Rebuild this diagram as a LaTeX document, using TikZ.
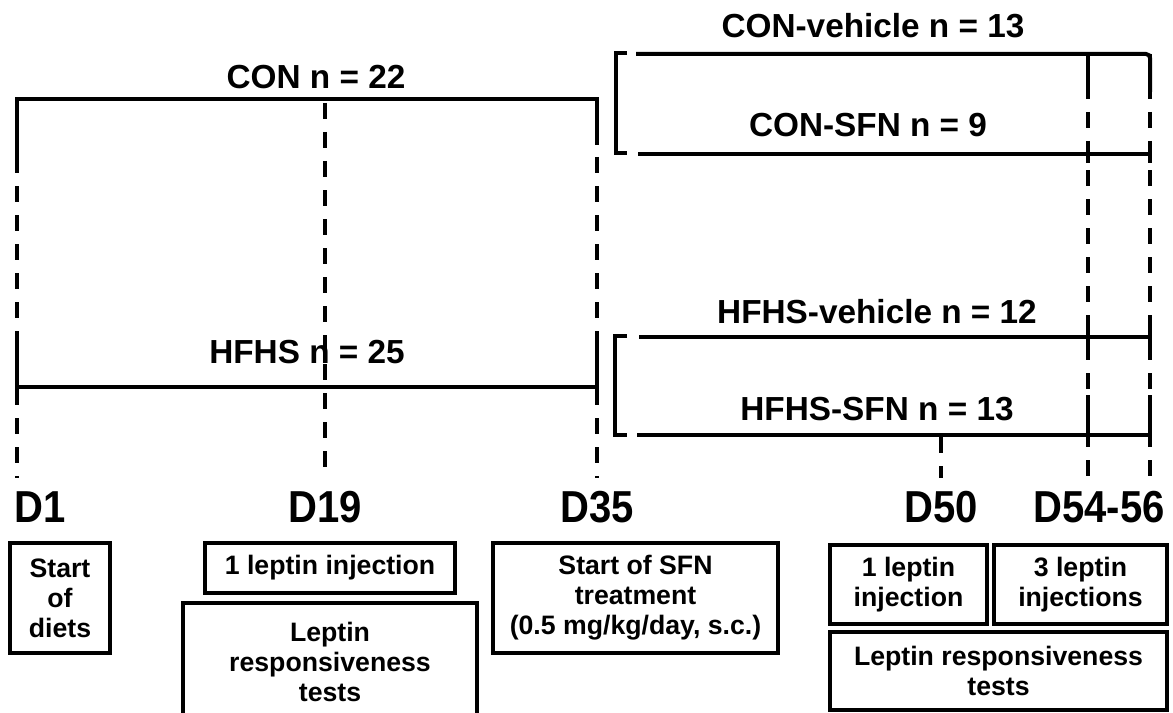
\documentclass[tikz,border=0pt]{standalone}
\usepackage{fontspec}
\setmainfont{Liberation Sans}
\begin{document}
\begin{tikzpicture}[x=0.75pt,y=-0.75pt,line width=3pt,
  dline/.style={line width=2.6pt,dash pattern=on 12pt off 9.75pt},
  grp/.style={font=\bfseries\fontsize{25}{30}\selectfont},
  day/.style={font=\bfseries\fontsize{30}{36}\selectfont,yscale=1.12,transform shape},
  note/.style={draw,line width=2.6pt,align=center,inner sep=0pt,
    font=\bfseries\fontsize{20}{22.5}\selectfont}]
\useasboundingbox (0,0) rectangle (1173,713);

% time lines
\draw[dline] (17,99) -- (17,478);
\draw[dline] (325,103) -- (325,478);
\draw[dline] (597,99) -- (597,478);
\draw[dline] (941,437) -- (941,478);
\draw[dline] (1088,54) -- (1088,478);
\draw[dline] (1150,54) -- (1150,478);

%-------------------------------------
% diets
\draw (17,157) -- (17,99) -- (597,99) -- (597,145);
\draw (17,340) -- (17,400);
\draw (15,387) -- (597,387) -- (597,343);
\node[grp] (con) at (316,77) {CON n = 22};
\node[grp] (hfhs) at (307,352) {HFHS n = 25};

%-------------------------------------
% treatment
\draw (627,53) -- (616,53) -- (616,153) -- (627,153);
\draw (627,336) -- (615,336) -- (615,435) -- (627,435);

\draw[rounded corners=3pt] (636,54) -- (1150,54) -- (1150,92);
\draw (1088,54) -- (1088,92);
\draw (638,154) -- (1150,154);
\draw (1088,146) -- (1088,163);
\draw (1150,146) -- (1150,163);

\draw (639,337) -- (1150,337);
\draw (1088,329) -- (1088,346);
\draw (1150,329) -- (1150,346);
\draw (637,435) -- (1152,435);
\draw (1088,395) -- (1088,435);
\draw (1150,395) -- (1150,435);

\node[grp] (conveh) at (873,26) {CON-vehicle n = 13};
\node[grp] (consfn) at (868,125) {CON-SFN n = 9};
\node[grp] (hfhsveh) at (877,312) {HFHS-vehicle n = 12};
\node[grp] (hfhssfn) at (877,409) {HFHS-SFN n = 13};

%-------------------------------------
% days
\node[day] (d1) at (40,507) {D1};
\node[day] (d19) at (325,507) {D19};
\node[day] (d35) at (597,507) {D35};
\node[day] (d50) at (941,507) {D50};
\node[day] (d54) at (1099,507) {D54-56};

\node[note,minimum width=75pt,minimum height=82.5pt] (diets) at (60,598) {Start\\of\\diets};
\node[note,minimum width=187.5pt,minimum height=37.5pt] (inj19) at (330,568) {1 leptin injection};
\node[note,minimum width=220.5pt,minimum height=87.75pt] (test19) at (330,661.5) {Leptin\\responsiveness\\tests};
\node[note,minimum width=213.75pt,minimum height=82.5pt] (sfn) at (635.5,598) {Start of SFN\\treatment\\(0.5 mg/kg/day, s.c.)};
\node[note,minimum width=117.75pt,minimum height=59.25pt] (inj50) at (908.5,584.5) {1 leptin\\injection};
\node[note,minimum width=129.75pt,minimum height=59.25pt] (inj54) at (1080.5,584.5) {3 leptin\\injections};
\node[note,minimum width=252.75pt,minimum height=58.5pt] (test54) at (998.5,671) {Leptin responsiveness\\tests};
\end{tikzpicture}
\end{document}
